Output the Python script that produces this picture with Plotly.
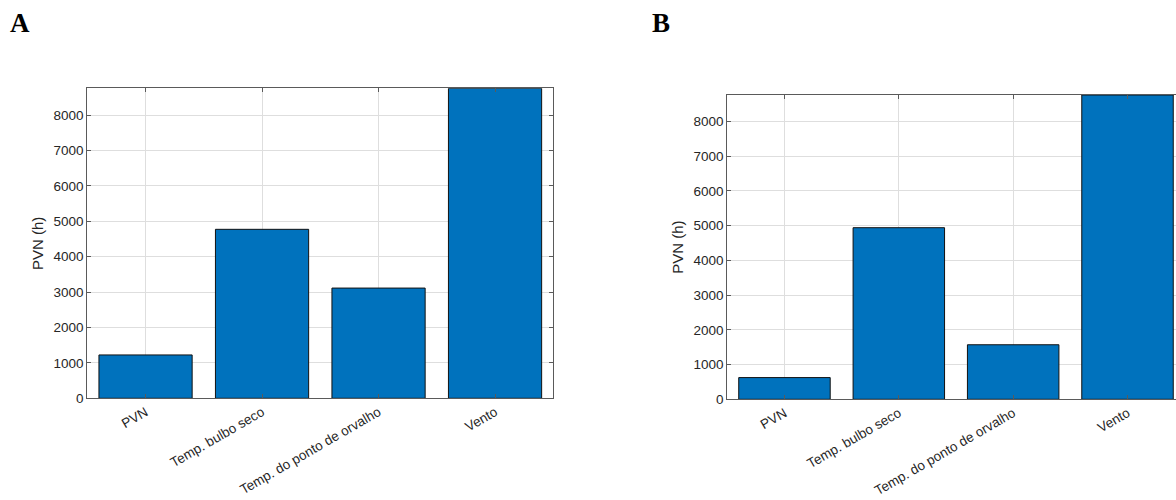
import plotly.graph_objects as go

categories = ["PVN", "Temp. bulbo seco", "Temp. do ponto de orvalho", "Vento"]
values_a = [1225, 4775, 3115, 8760]
values_b = [625, 4940, 1570, 8760]
y_ticks = [0, 1000, 2000, 3000, 4000, 5000, 6000, 7000, 8000]
y_max = 8760
panel_labels = ["A", "B"]

W, H = 1176, 500
BAR = "#0072BD"
GRID = "#dedede"
AX = "#5a5a5a"
TXT = "#262626"
FONT = "Liberation Sans, Arial, sans-serif"

fig = go.Figure()
fig.add_trace(go.Bar(x=list(range(4)), y=values_a, marker=dict(color=BAR, line=dict(color="#111111", width=1)),
                     xaxis="x", yaxis="y", showlegend=False, width=0.8))
fig.add_trace(go.Bar(x=list(range(4)), y=values_b, marker=dict(color=BAR, line=dict(color="#111111", width=1)),
                     xaxis="x2", yaxis="y2", showlegend=False, width=0.8))

def xax(domain, anchor, rng, mirror):
    return dict(domain=domain, anchor=anchor, range=rng, tickmode="array", tickvals=list(range(4)),
                ticktext=categories, tickangle=-30, showgrid=True, gridcolor=GRID, gridwidth=1,
                showline=True, linecolor=AX, linewidth=1, mirror=mirror, ticks="inside", ticklen=4,
                tickcolor=AX, tickfont=dict(family=FONT, size=13.5, color=TXT), zeroline=False,
                fixedrange=True, automargin=False)

def yax(domain, anchor, mirror):
    return dict(domain=domain, anchor=anchor, range=[0, y_max], tickmode="array", tickvals=y_ticks,
                ticktext=[str(v) for v in y_ticks], showgrid=True, gridcolor=GRID, gridwidth=1,
                showline=True, linecolor=AX, linewidth=1, mirror=mirror, ticks="inside", ticklen=4,
                tickcolor=AX, tickfont=dict(family=FONT, size=13.5, color=TXT), zeroline=False,
                title=dict(text="PVN (h)", font=dict(family=FONT, size=15, color=TXT), standoff=6),
                fixedrange=True, automargin=False)

fig.update_layout(
    width=W, height=H, margin=dict(l=0, r=0, t=0, b=0),
    paper_bgcolor="white", plot_bgcolor="white", bargap=0.2,
    xaxis=xax([87.3 / W, 553.3 / W], "y", [-0.5, 3.5], "ticks"),
    yaxis=yax([1 - 398.3 / H, 1 - 88.3 / H], "x", "ticks"),
    xaxis2=xax([727.3 / W, 1.0], "y2", [-0.5, 3.424], "ticks"),
    yaxis2=yax([1 - 399.3 / H, 1 - 95 / H], "x2", False),
)

for lab, xpx in zip(panel_labels, [8, 650]):
    fig.add_annotation(text="<b>" + lab + "</b>", x=xpx / W, y=1 - 6 / H, xref="paper", yref="paper",
                       xanchor="left", yanchor="top", showarrow=False,
                       font=dict(family="Liberation Serif, Times New Roman, serif", size=27, color="black"))

fig.write_html("out.html")
